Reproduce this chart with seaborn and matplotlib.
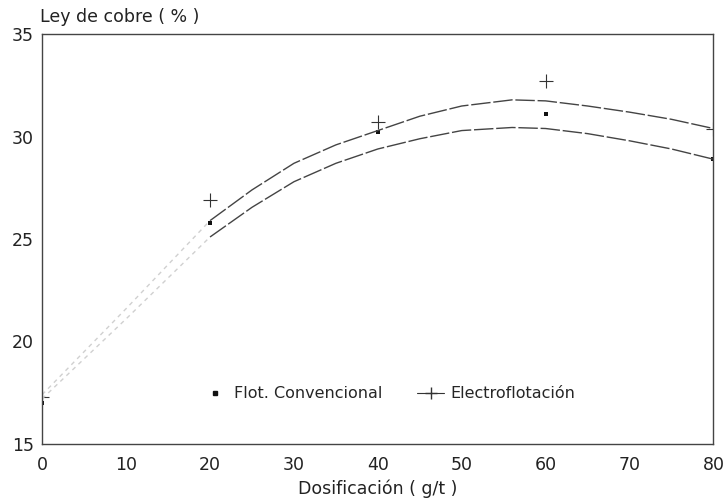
import numpy as np
import pandas as pd
import matplotlib
matplotlib.use("Agg")
import matplotlib.pyplot as plt
import seaborn as sns
from matplotlib.lines import Line2D

# measured points
dosis = [0, 20, 40, 60, 80]
ley_conv = [17.0, 25.8, 30.25, 31.1, 28.9]
ley_electro = [17.3, 26.9, 30.7, 32.7, 30.4]

# fitted curves
curva_x = [0, 10, 20, 25, 30, 35, 40, 45, 50, 56, 60, 65, 70, 75, 80]
curva_conv = [17.2, 21.1, 25.1, 26.55, 27.8, 28.7, 29.4, 29.9, 30.3, 30.45,
              30.4, 30.15, 29.8, 29.4, 28.9]
curva_electro = [17.4, 21.6, 25.9, 27.4, 28.7, 29.6, 30.3, 31.0, 31.5, 31.8,
                 31.75, 31.5, 31.2, 30.85, 30.4]

sns.set_theme(style="white")
plt.rcParams['font.family'] = ['DejaVu Sans']

fig, ax = plt.subplots(figsize=(7.28, 4.98), dpi=100)
fig.subplots_adjust(left=0.058, right=0.980, top=0.931, bottom=0.109)

curvas = pd.DataFrame({'x': curva_x, 'conv': curva_conv, 'electro': curva_electro})
tramo_bajo = curvas[curvas['x'] <= 20]
tramo_alto = curvas[curvas['x'] >= 20]

# faint start of the curves, darker beyond 20 g/t
for col in ['conv', 'electro']:
    sns.lineplot(data=tramo_bajo, x='x', y=col, ax=ax, color='#d0d0d0',
                 linewidth=1.0, linestyle=(0, (3, 3)))
    sns.lineplot(data=tramo_alto, x='x', y=col, ax=ax, color='#444444',
                 linewidth=1.0, linestyle=(0, (14, 2)))

sns.scatterplot(x=dosis, y=ley_conv, ax=ax, marker='s', s=8, color='#111111',
                edgecolor='none')
sns.scatterplot(x=dosis, y=ley_electro, ax=ax, marker='+', s=110, color='#333333',
                linewidth=0.8)

ax.set_xlim(0, 80)
ax.set_ylim(15, 35)
ax.set_xticks(range(0, 81, 10))
ax.set_yticks(range(15, 36, 5))
ax.tick_params(direction='in', length=4, width=0.8, colors='#333333',
               labelsize=12.5, labelcolor='#222222')
ax.tick_params(axis='x', pad=9)
ax.tick_params(axis='y', pad=6)
for s in ax.spines.values():
    s.set_color('#444444')
    s.set_linewidth(1.0)

ax.set_xlabel('Dosificación ( g/t )', fontsize=12.5, color='#222222', labelpad=4)
ax.set_ylabel('')
fig.text(0.055, 0.966, 'Ley de cobre ( % )', fontsize=12.5, color='#222222',
         ha='left', va='center')

handles = [
    Line2D([], [], marker='s', markersize=2.5, color='#111111', linestyle='none'),
    Line2D([], [], marker='+', markersize=9, color='#333333', linewidth=0.8),
]
ax.legend(handles, ['Flot. Convencional', 'Electroflotación'], ncol=2,
          loc='center', bbox_to_anchor=(0.515, 0.122), frameon=False,
          fontsize=11.5, handlelength=1.7, columnspacing=2.2, handletextpad=0.35)

fig.savefig('out.png', dpi=100)
